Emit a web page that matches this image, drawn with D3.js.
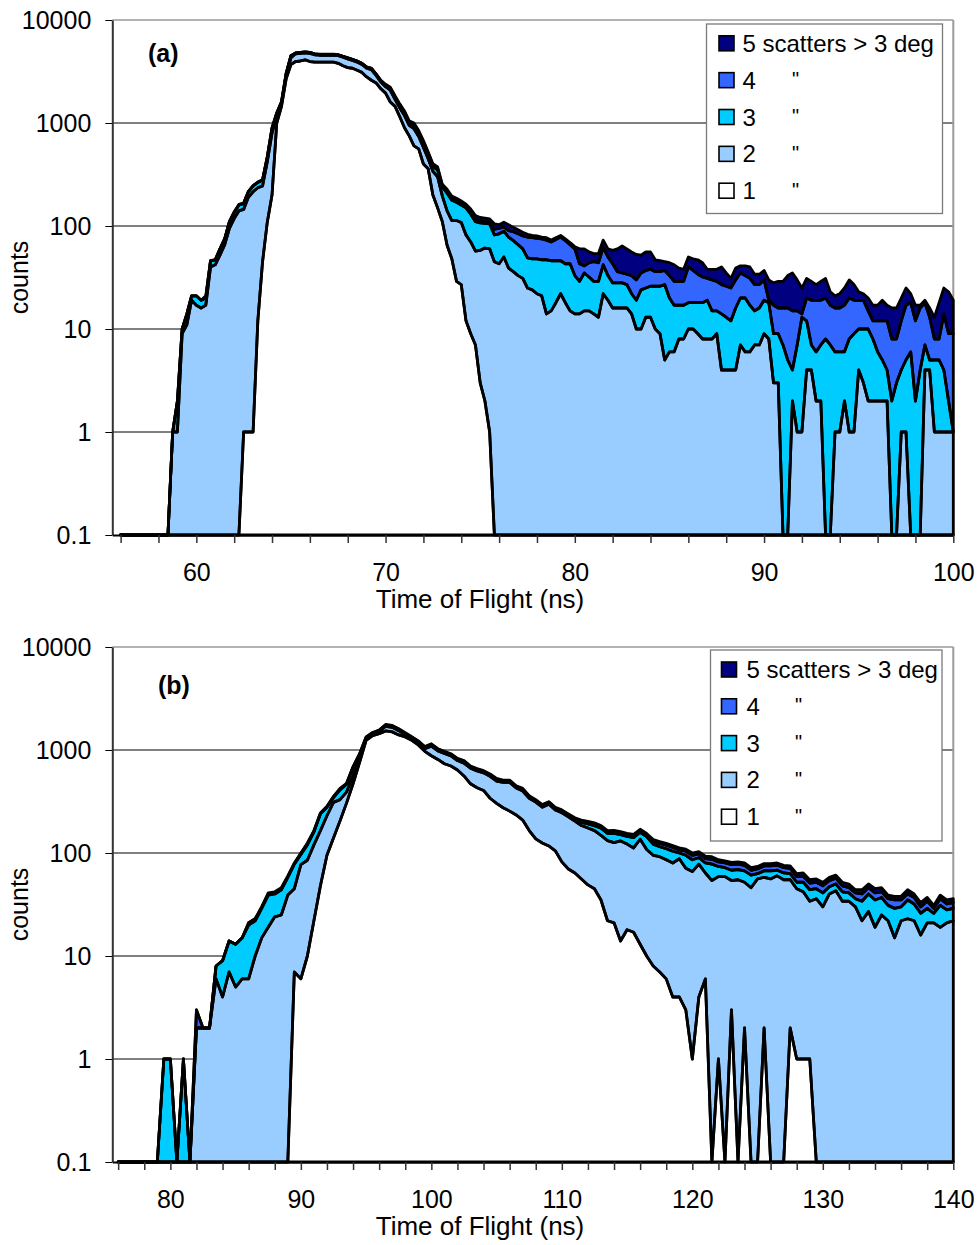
<!DOCTYPE html>
<html>
<head>
<meta charset="utf-8">
<title>Time of flight spectra by number of scatters</title>
<script src="https://cdn.jsdelivr.net/npm/d3@7/dist/d3.min.js"></script>
<style>
  html, body { margin: 0; padding: 0; background: #ffffff; }
  svg { display: block; }
  text { font-family: "Liberation Sans", Arial, Helvetica, sans-serif; fill: #000; }
</style>
</head>
<body>
<svg id="chart" width="979" height="1245" viewBox="0 0 979 1245"></svg>
<script>
// Counts per time-of-flight bin, split by the number of scatters > 3 deg.
// Series 1..5 are stacked from the bottom up.

const countTicks = [0.1, 1, 10, 100, 1000, 10000];

// legend, top to bottom
const legendText = ["5 scatters > 3 deg", "4", "3", "2", "1"];
const legendDitto = [false, true, true, true, true];

// ---------- panel (a): 0.25 ns bins, 56 .. 100 ns ----------
const tofStartA = 56, tofStepA = 0.25;
const tofTicksA = d3.range(56, 100.001, 2);
const tofLabelsA = [60, 70, 80, 90, 100];

const a1 = [
  0,0,0,0,0,0,0,0,
  0,0,0,0,0,0,0,0,
  0,0,0,0,0,0,0,0,
  0,0,1,1,1,12,45,109,
  200,1000,1450,2700,3700,3950,4000,4100,
  3950,3900,3900,3900,3900,3900,3800,3600,
  3450,3400,3250,3100,2800,2600,2450,2150,
  1950,1600,1450,1150,900,750,600,560,
  400,360,200,150,110,65,48,29,
  27,12,9,7,3,2,1,0,
  0,0,0,0,0,0,0,0,
  0,0,0,0,0,0,0,0,
  0,0,0,0,0,0,0,0,
  0,0,0,0,0,0,0,0,
  0,0,0,0,0,0,0,0,
  0,0,0,0,0,0,0,0,
  0,0,0,0,0,0,0,0,
  0,0,0,0,0,0,0,0,
  0,0,0,0,0,0,0,0,
  0,0,0,0,0,0,0,0,
  0,0,0,0,0,0,0,0,
  0,0,0,0,0,0,0,0,
  0
];
const a2 = [
  0,0,0,0,0,0,0,0,
  0,0,0,1,1,9,11,19,
  17,16,17,40,42,52,66,95,
  118,140,144,189,214,223,200,311,
  600,150,100,250,600,750,750,700,
  800,700,650,650,650,650,700,750,
  750,650,650,600,600,700,450,350,
  300,480,250,250,280,200,280,180,
  180,90,140,150,85,75,65,84,
  81,70,61,50,55,59,59,45,
  43,50,39,36,33,31,25,24,
  22,21,14,15,18,22,18,15,
  14,14,15,15,14,13,22,19,
  16,16,16,16,14,10,10,13,
  13,10,9,5,6,6,8,8,
  10,10,9,8,8,8,9,4,
  4,4,4,7,6,6,7,7,
  9,8,3,3,0,0,2,1,
  1,4,4,2,2,0,0,1,
  1,2,1,1,4,3,2,2,
  2,2,2,0,0,1,1,0,
  0,0,4,4,1,1,1,1,
  1
];
const a3 = [
  0,0,0,0,0,0,0,0,
  0,0,0,0,1,1,3,2,
  4,3,3,6,5,8,9,15,
  17,20,20,25,30,30,35,48,
  90,100,50,100,200,90,85,85,
  85,85,85,85,85,85,85,85,
  85,85,85,85,85,85,70,60,
  50,70,80,80,70,50,70,60,
  60,45,40,50,44,68,65,57,
  52,68,60,53,49,45,45,37,
  41,39,39,36,33,29,24,24,
  26,26,33,31,28,24,25,28,
  19,15,20,17,15,16,20,14,
  12,12,12,11,8,9,14,12,
  13,16,17,22,14,11,9,9,
  8,8,9,10,11,7,6,10,
  9,8,12,13,14,11,8,9,
  10,10,6,6,7,5,2,6,
  12,8,3,4,5,8,7,5,
  5,4,7,8,6,7,8,6,
  4,3,2,2,3,3,4,6,
  2,4,3,1,4,4,3,1,
  0
];
const a4 = [
  0,0,0,0,0,0,0,0,
  0,0,0,0,0,0,0,0,
  0,0,0,0,0,0,0,0,
  1,1,1,1,1,1,1,1,
  3,2,2,2,2,5,7,7,
  7,7,7,7,7,7,7,7,
  7,7,7,7,7,7,15,20,
  30,30,20,20,30,25,25,25,
  20,15,12,12,8,10,10,10,
  8,6,8,6,5,4,4,11,
  11,9,12,16,18,20,29,29,
  28,28,26,24,28,32,29,23,
  27,14,6,12,16,15,20,17,
  15,8,7,7,11,11,11,12,
  12,10,10,10,13,12,12,12,
  22,19,16,14,12,15,14,13,
  13,13,14,15,13,14,12,11,
  11,1,8,7,9,11,11,8,
  1,8,12,13,12,12,10,10,
  10,11,12,10,9,9,5,4,
  6,7,8,6,5,8,12,12,
  10,12,11,8,3,3,10,7,
  8
];
const a5 = [
  0,0,0,0,0,0,0,0,
  0,0,0,0,0,0,0,0,
  0,0,1,0,0,0,1,1,
  1,1,1,1,1,1,1,1,
  7,3,3,3,3,5,8,8,
  8,8,8,8,8,8,8,8,
  8,8,8,8,8,8,15,20,
  50,50,40,35,30,25,25,20,
  15,15,11,12,7,9,7,6,
  7,7,8,10,9,9,8,12,
  8,11,13,9,8,7,5,4,
  4,3,4,3,3,3,3,3,
  3,17,19,12,9,10,11,10,
  15,24,29,26,23,23,17,19,
  18,11,10,8,11,13,10,9,
  10,11,13,12,7,8,9,13,
  9,6,9,6,8,9,7,7,
  7,11,11,13,13,17,20,15,
  11,11,10,8,10,11,6,5,
  6,8,10,8,4,3,5,5,
  5,7,5,8,8,8,8,4,
  5,1,1,3,5,10,11,14,
  10
];

// ---------- panel (b): 0.5 ns bins, 76 .. 140 ns ----------
const tofStartB = 76, tofStepB = 0.5;
const tofTicksB = d3.range(76, 140.001, 2);
const tofLabelsB = [80, 90, 100, 110, 120, 130, 140];

const b1 = [
  0,0,0,0,0,0,0,0,
  0,0,0,0,0,0,0,0,
  0,0,0,0,0,0,0,0,
  0,0,0,7,6,10,22,48,
  95,140,205,305,470,760,1240,1380,
  1440,1530,1500,1400,1340,1240,1120,970,
  880,810,735,700,640,560,470,430,
  405,340,303,275,255,234,209,165,
  137,125,117,105,82,70,64,56,
  49,45,35,22,21,14,18,17,
  13,10,8,7,6,4,4,3,
  1,4,6,0,1,0,3,0,
  2,0,0,2,0,0,0,2,
  1,1,1,0,0,0,0,0,
  0,0,0,0,0,0,0,0,
  0,0,0,0,0,0,0,0,
  0
];
const b2 = [
  0,0,0,0,0,0,0,0,
  0,0,0,0,2,2,2,6,
  4,7,5,6,6,10,15,19,
  24,25,39,38,71,75,98,117,
  135,170,125,85,90,70,30,40,
  60,170,160,140,60,50,50,60,
  210,170,190,175,150,185,195,195,
  195,215,197,210,230,194,191,175,
  175,153,181,157,164,155,140,129,
  126,120,113,110,105,117,104,95,
  123,98,87,85,80,76,84,68,
  65,74,58,54,58,59,51,55,
  50,46,56,56,56,60,55,53,
  44,41,33,36,30,40,43,34,
  34,30,22,27,19,25,22,15,
  22,23,22,16,21,21,19,21,
  22
];
const b3 = [
  0,0,0,0,0,0,0,1,
  1,0,1,0,0,0,0,2,
  5,7,8,9,14,12,14,20,
  16,19,19,33,20,35,40,75,
  48,35,80,75,115,75,50,40,
  40,45,40,40,40,30,35,30,
  30,30,25,25,25,25,20,20,
  18,17,16,13,13,12,12,10,
  8,8,8,8,7,7,8,13,
  17,19,26,23,29,20,23,29,
  23,36,27,23,24,24,12,24,
  20,12,16,24,15,13,14,14,
  15,15,7,9,11,8,9,8,
  7,10,10,9,11,7,7,8,
  7,6,12,13,16,12,9,14,
  8,12,10,10,8,5,12,7,
  7
];
const b4 = [
  0,0,0,0,0,0,0,0,
  0,0,0,0,1,0,0,0,
  0,0,0,0,1,1,1,1,
  1,1,1,1,2,3,3,3,
  4,5,8,5,8,7,10,10,
  10,13,15,15,15,13,10,10,
  15,10,10,10,7,10,7,8,
  6,7,7,7,7,5,6,5,
  5,5,5,4,5,4,4,6,
  6,7,6,6,6,6,6,6,
  6,6,8,9,9,9,7,9,
  9,8,8,9,8,8,9,9,
  9,7,7,8,8,8,8,8,
  7,7,7,7,7,7,7,6,
  5,5,6,6,6,5,5,6,
  5,5,5,4,5,3,5,4,
  4
];
const b5 = [
  0,0,0,0,0,0,0,0,
  0,0,0,0,0,0,0,0,
  0,0,0,0,0,0,0,1,
  1,1,1,1,1,2,2,2,
  3,5,6,5,7,8,10,10,
  10,12,15,15,15,12,10,10,
  15,10,10,10,8,10,8,7,
  6,6,7,6,6,5,6,5,
  5,4,4,4,4,4,4,5,
  5,5,5,4,5,4,4,5,
  5,5,5,5,5,5,5,5,
  5,5,5,5,4,4,4,4,
  4,4,4,4,4,4,4,4,
  4,5,4,4,4,4,4,4,
  4,3,4,4,4,4,3,3,
  3,4,3,3,3,2,3,3,
  3
];

// ---------- drawing ----------
const fills = ["#ffffff", "#99ccff", "#00ccff", "#3366ff", "#000080"];
const keys = ["s1", "s2", "s3", "s4", "s5"];

const svg = d3.select("#chart");
svg.append("rect").attr("width", 979).attr("height", 1245).attr("fill", "#ffffff");
const defs = svg.append("defs");

const panels = [
  {
    tag: "(a)", tagX: 148, tagY: 62,
    start: tofStartA, step: tofStepA, series: [a1, a2, a3, a4, a5],
    domain: [55.56, 100], ticks: tofTicksA, labels: tofLabelsA,
    left: 112.3, right: 953.3, top: 20, bottom: 535, titleY: 607.5,
    legend: { x: 706.5, y: 24, w: 236, h: 189.5, markerX: 719, textX: 742.5, dittoX: 792, row0: 19.3, rowGap: 36.85 }
  },
  {
    tag: "(b)", tagX: 158, tagY: 694,
    start: tofStartB, step: tofStepB, series: [b1, b2, b3, b4, b5],
    domain: [75.55, 140], ticks: tofTicksB, labels: tofLabelsB,
    left: 112.3, right: 953.3, top: 647, bottom: 1162, titleY: 1234.5,
    legend: { x: 710.5, y: 650, w: 231.5, h: 191, markerX: 721.5, textX: 746.5, dittoX: 795, row0: 19.5, rowGap: 36.8 }
  }
];

panels.forEach((p, pi) => {
  const x = d3.scaleLinear().domain(p.domain).range([p.left, p.right]);
  const y = d3.scaleLog().domain([0.1, 10000]).range([p.bottom, p.top]);
  const yc = v => y(Math.max(v, 0.1));

  const rows = p.series[0].map((_, i) => {
    const r = { t: p.start + i * p.step };
    keys.forEach((k, j) => { r[k] = p.series[j][i]; });
    return r;
  });
  const layers = d3.stack().keys(keys)(rows);

  const g = svg.append("g");

  // decade gridlines
  g.append("g").selectAll("line").data(countTicks.slice(1, -1)).join("line")
    .attr("x1", p.left).attr("x2", p.right)
    .attr("y1", d => y(d)).attr("y2", d => y(d))
    .attr("stroke", "#000").attr("stroke-width", 1);

  // plot frame (top and right)
  g.append("line").attr("x1", p.left).attr("x2", p.right).attr("y1", p.top).attr("y2", p.top)
    .attr("stroke", "#9a9a9a").attr("stroke-width", 1.5);
  g.append("line").attr("x1", p.right).attr("x2", p.right).attr("y1", p.top).attr("y2", p.bottom)
    .attr("stroke", "#9a9a9a").attr("stroke-width", 2);

  const clipId = "plot-clip-" + pi;
  defs.append("clipPath").attr("id", clipId).append("rect")
    .attr("x", p.left).attr("y", p.top)
    .attr("width", p.right - p.left + 2).attr("height", p.bottom - p.top + 2);

  const area = d3.area()
    .x(d => x(d.data.t))
    .y0(d => yc(d[0]))
    .y1(d => yc(d[1]));

  const plot = g.append("g").attr("clip-path", `url(#${clipId})`);
  plot.selectAll("path.layer").data(layers).join("path")
    .attr("class", "layer")
    .attr("fill", (d, i) => fills[i])
    .attr("d", area);
  plot.selectAll("path.edge").data(layers).join("path")
    .attr("class", "edge")
    .attr("fill", "none")
    .attr("stroke", "#000")
    .attr("stroke-width", 2.8)
    .attr("stroke-linejoin", "round")
    .attr("d", area);

  // y axis
  const yAxis = d3.axisLeft(y).tickValues(countTicks).tickSize(7).tickSizeOuter(0)
    .tickPadding(14).tickFormat(d => String(d));
  const gy = g.append("g").attr("transform", `translate(${p.left},0)`).call(yAxis);
  gy.attr("font-family", null).attr("font-size", null);
  gy.select(".domain").attr("stroke", "#333").attr("stroke-width", 2);
  gy.selectAll(".tick line").attr("stroke", "#000").attr("stroke-width", 1);
  gy.selectAll(".tick text").attr("font-size", 25).attr("fill", "#000");

  // x axis
  const xAxis = d3.axisBottom(x).tickValues(p.ticks).tickSize(8).tickSizeOuter(0)
    .tickPadding(20).tickFormat(d => p.labels.includes(d) ? String(d) : "");
  const gx = g.append("g").attr("transform", `translate(0,${p.bottom})`).call(xAxis);
  gx.attr("font-family", null).attr("font-size", null);
  gx.select(".domain").attr("stroke", "#000").attr("stroke-width", 2);
  gx.selectAll(".tick line").attr("stroke", "#333").attr("stroke-width", 1.5);
  gx.selectAll(".tick text").attr("font-size", 25).attr("fill", "#000");

  // axis titles
  g.append("text").attr("x", 480).attr("y", p.titleY)
    .attr("text-anchor", "middle").attr("font-size", 26)
    .text("Time of Flight (ns)");
  const midY = (p.top + p.bottom) / 2;
  g.append("text").attr("transform", `translate(28,${midY}) rotate(-90)`)
    .attr("text-anchor", "middle").attr("font-size", 25)
    .text("counts");

  // panel tag
  g.append("text").attr("x", p.tagX).attr("y", p.tagY)
    .attr("font-size", 25).attr("font-weight", "bold")
    .text(p.tag);

  // legend
  const L = p.legend;
  const lg = g.append("g");
  lg.append("rect").attr("x", L.x).attr("y", L.y).attr("width", L.w).attr("height", L.h)
    .attr("fill", "#ffffff").attr("stroke", "#7a7a7a").attr("stroke-width", 1.3);
  legendText.forEach((label, i) => {
    const cy = L.y + L.row0 + i * L.rowGap;
    const seriesIndex = keys.length - 1 - i;
    lg.append("rect").attr("x", L.markerX).attr("y", cy - 7.5).attr("width", 15).attr("height", 15)
      .attr("fill", fills[seriesIndex]).attr("stroke", "#000").attr("stroke-width", 1.6);
    lg.append("text").attr("x", L.textX).attr("y", cy + 8.5).attr("font-size", 24).text(label);
    if (legendDitto[i]) {
      lg.append("text").attr("x", L.dittoX).attr("y", cy + 6).attr("font-size", 20).text('"');
    }
  });
});
</script>
</body>
</html>
